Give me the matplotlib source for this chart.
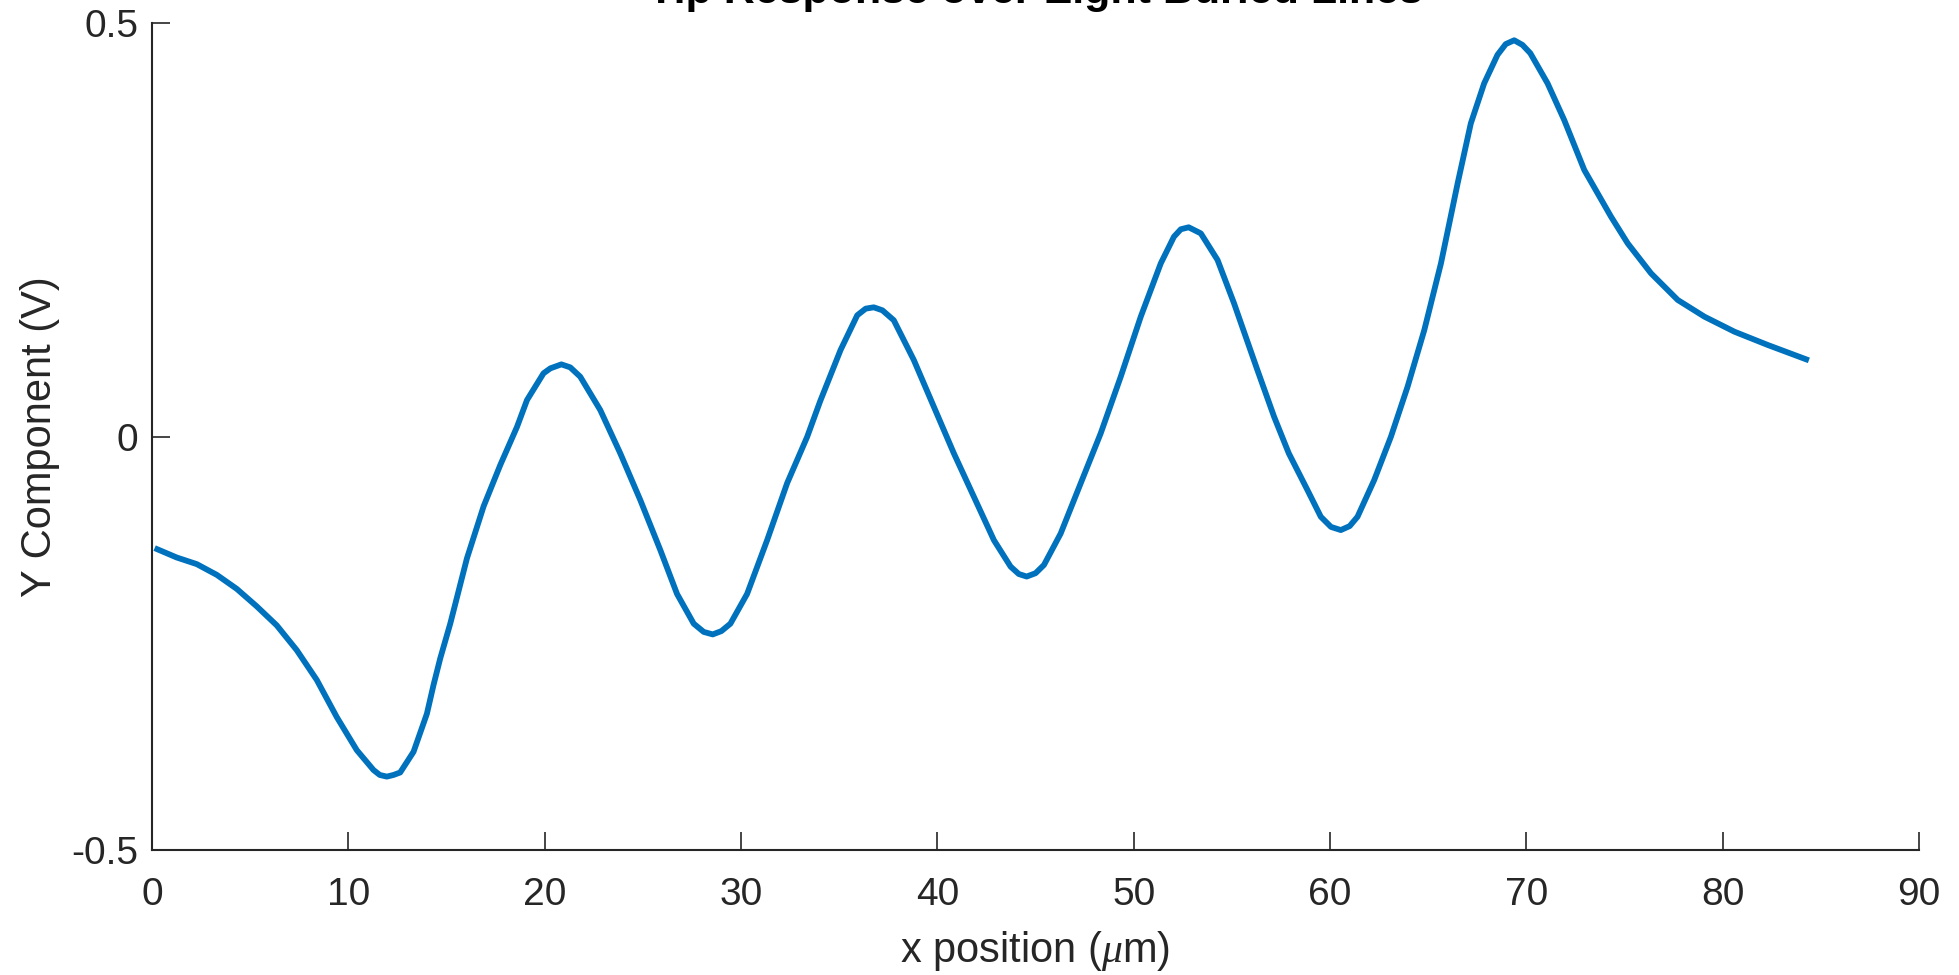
import matplotlib
matplotlib.use("Agg")
import matplotlib.pyplot as plt

plt.rcParams['font.family'] = ['Liberation Sans', 'DejaVu Sans']
plt.rcParams['mathtext.fontset'] = 'custom'
plt.rcParams['mathtext.it'] = 'Liberation Serif:italic'

# x position (um) and Y component (V)
x_pos = [0.27, 1.26, 2.28, 3.30, 4.32, 5.33, 6.35, 7.37, 8.39, 9.41, 10.43, 11.28,
         11.6, 11.96, 12.3, 12.64, 13.32, 14.0, 14.34, 14.68, 15.19, 16.04, 16.89,
         17.74, 18.59, 19.1, 19.94, 20.29, 20.85, 21.3, 21.81, 22.83, 23.85, 24.87,
         25.89, 26.74, 27.59, 28.1, 28.56, 29.0, 29.46, 30.31, 31.33, 32.35, 33.37,
         34.03, 35.07, 35.92, 36.35, 36.76, 37.2, 37.78, 38.8, 39.82, 40.84, 41.86,
         42.88, 43.73, 44.15, 44.55, 45.0, 45.43, 46.28, 47.3, 48.32, 49.34, 50.36,
         51.38, 52.05, 52.4, 52.8, 53.42, 54.27, 55.11, 55.5, 56.3, 57.15, 57.9,
         58.85, 59.53, 60.05, 60.55, 61.0, 61.4, 62.25, 63.1, 63.95, 64.8, 65.65,
         66.5, 67.17, 67.85, 68.53, 68.95, 69.38, 69.8, 70.2, 71.08, 71.93, 72.95,
         74.31, 75.16, 76.35, 77.71, 79.07, 80.6, 82.3, 84.25]
y_comp = [-0.136, -0.146, -0.154, -0.167, -0.184, -0.205, -0.228, -0.258, -0.294,
          -0.339, -0.379, -0.403, -0.409, -0.411, -0.409, -0.406, -0.381, -0.335,
          -0.300, -0.268, -0.226, -0.147, -0.084, -0.034, 0.012, 0.0445, 0.0768,
          0.0828, 0.0876, 0.084, 0.0727, 0.0324, -0.020, -0.0765, -0.137, -0.190,
          -0.226, -0.236, -0.239, -0.235, -0.226, -0.190, -0.125, -0.056, 0.0,
          0.043, 0.105, 0.147, 0.155, 0.1566, 0.153, 0.141, 0.0929, 0.0364, -0.020,
          -0.0725, -0.125, -0.157, -0.166, -0.169, -0.165, -0.155, -0.117, -0.0563,
          0.0042, 0.0727, 0.1453, 0.2098, 0.242, 0.251, 0.2534, 0.246, 0.2139,
          0.1615, 0.135, 0.0808, 0.0243, -0.020, -0.0644, -0.0967, -0.109, -0.1128,
          -0.108, -0.0967, -0.0523, 0.0, 0.0606, 0.129, 0.2098, 0.3066, 0.379,
          0.4275, 0.462, 0.475, 0.4796, 0.474, 0.464, 0.4275, 0.383, 0.3227, 0.2663,
          0.234, 0.1977, 0.1655, 0.1453, 0.1271, 0.111, 0.0937]

x_ticks = [0, 10, 20, 30, 40, 50, 60, 70, 80, 90]
y_ticks = [-0.5, 0, 0.5]
y_tick_labels = ['-0.5', '0', '0.5']

fig = plt.figure(figsize=(19.59, 9.75), dpi=100)
ax = fig.add_axes([0.0776, 0.128, 0.902, 0.848])

ax.plot(x_pos, y_comp, color='#0072BD', linewidth=4.2)

ax.set_xlim(0, 90)
ax.set_ylim(-0.5, 0.5)
ax.set_xticks(x_ticks)
ax.set_yticks(y_ticks)
ax.set_yticklabels(y_tick_labels)

for side in ['top', 'right']:
    ax.spines[side].set_visible(False)
for side in ['left', 'bottom']:
    ax.spines[side].set_color('#262626')
    ax.spines[side].set_linewidth(1.5)

ax.tick_params(direction='in', length=13, width=1.2, colors='#262626', labelsize=28)
ax.tick_params(axis='x', pad=19)
ax.tick_params(axis='y', pad=10)

ax.set_xlabel(r'x position ($\mu$m)', fontsize=30, color='#262626', labelpad=12)
ax.set_ylabel('Y Component (V)', fontsize=30, color='#262626', labelpad=8)
ax.set_title('Tip Response over Eight Buried Lines', fontsize=31,
             fontweight='bold', pad=15)

fig.savefig('out.png', dpi=100)
